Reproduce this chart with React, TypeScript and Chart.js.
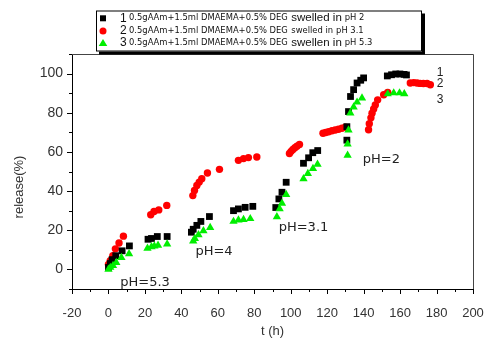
import React, { useEffect, useRef } from "react";
import { Chart, registerables } from "chart.js";
Chart.register(...registerables);

// Series 1: pH 2 (black squares)
const s1T = [0, 1, 2, 4, 7.5, 11.5, 21.7, 23.6, 26.8, 32.2, 45.5, 46.5, 48.5, 50.7, 55.4, 68.6, 71.3, 75, 79.2, 91.8, 93.5, 95.2, 97.5, 107, 109.8, 112.1, 114.8, 130.8, 130.8, 131.7, 132.8, 134.5, 136.4, 138.4, 140, 153, 155.3, 157.6, 159.9, 162.2, 163.5];
const s1V = [1, 3, 5, 7, 9.5, 12, 15.4, 15.8, 16.8, 16.8, 19, 20.5, 22.5, 24.5, 27, 30, 30.9, 31.7, 32.2, 31.6, 36, 39.4, 44.5, 54.2, 57, 59.6, 60.7, 66, 72.9, 80.6, 88.3, 91.8, 95.2, 96.6, 97.8, 98.8, 99.4, 99.8, 99.8, 99.6, 99.3];

// Series 2: pH 3.1 (red circles)
const s2T = [0, 1, 2.4, 3.8, 5.8, 8.2, 23.2, 25, 27.6, 32, 46.3, 47.2, 48.5, 49.8, 51.2, 54.3, 60.9, 71.3, 74.1, 76.8, 81.4, 99.3, 100.2, 101.2, 102.3, 103.4, 104.8, 117.7, 119.2, 120.8, 122.6, 124.4, 126.2, 128.1, 129.9, 142.7, 143.1, 144, 144.6, 145.5, 146.4, 147.7, 151, 153.2, 165.6, 167.5, 169.3, 171, 172.8, 174.8, 176.6];
const s2V = [2.5, 4.5, 7, 10.5, 13.5, 17, 27.9, 29.6, 30.4, 32.7, 37.7, 40.3, 42.9, 44.6, 46.3, 49.2, 51.1, 55.7, 56.6, 57.1, 57.4, 59.2, 60.3, 61.2, 62.1, 62.9, 63.8, 69.5, 69.9, 70.3, 70.8, 71.2, 71.6, 72.1, 72.6, 71.3, 74.4, 77.4, 79.8, 81.9, 84, 86.6, 89.2, 90.4, 95.2, 95.4, 95.2, 95, 94.9, 94.9, 94.3];

// Series 3: pH 5.3 (green triangles)
const s3T = [0, 1, 2.5, 4.3, 7.1, 11.3, 21.4, 23.6, 25.2, 27.2, 32.2, 46.5, 47.4, 49.4, 52.1, 55.8, 68.6, 71.3, 74.1, 77.8, 92.4, 93.9, 95.2, 97.5, 107, 109.4, 112.2, 114.7, 131.2, 131.2, 131.7, 132.7, 134.5, 136.4, 139.1, 153.2, 156.5, 159.7, 162.3];
const s3V = [0, 1, 2, 3.5, 6, 8, 10.8, 11.5, 11.9, 12.3, 12.9, 14.5, 15.7, 17.7, 19.7, 21.4, 24.5, 25.2, 25.5, 25.9, 26.9, 30.9, 33.8, 38.2, 46.3, 48.9, 51.5, 53.7, 58.3, 64, 71.2, 79.8, 82.9, 85.4, 87.5, 89.6, 90.1, 90.1, 89.7];

const legendNums = ["1", "2", "3"];
const legendMain = ["0.5gAAm+1.5ml DMAEMA+0.5% DEG", "0.5gAAm+1.5ml DMAEMA+0.5% DEG", "0.5gAAm+1.5ml DMAEMA+0.5% DEG"];
const legendVerb = ["swelled in", "swelled in", "swellen in"];
const legendPh = ["pH 2", "pH 3.1", "pH 5.3"];

const phLabels = ["pH=5.3", "pH=4", "pH=3.1", "pH=2"];
const phX = [20.1, 57.9, 107, 149.7];
const phY = [-6.5, 9.1, 21.4, 56.1];

const curveLabels = ["1", "2", "3"];
const curveX = [182, 182, 182];
const curveY = [100.7, 94.9, 86.6];

const xMin = -20, xMax = 200, yMin = -10, yMax = 110;

const pts = (t: number[], v: number[]) => t.map((x, i) => ({ x, y: v[i] }));

const SANS = "'Liberation Sans', Arial, sans-serif";
const DJ = "'DejaVu Sans', Verdana, sans-serif";

const framePlugin = {
  id: "frameAndExtras",
  afterDraw(chart: any) {
    const { ctx, chartArea: a, scales } = chart;
    const xs = scales.x, ys = scales.y;
    ctx.save();
    // frame top/right
    ctx.strokeStyle = "#444";
    ctx.lineWidth = 1;
    ctx.beginPath();
    ctx.moveTo(a.left, a.top + 0.5);
    ctx.lineTo(a.right + 0.5, a.top + 0.5);
    ctx.lineTo(a.right + 0.5, a.bottom);
    ctx.stroke();
    // ticks
    ctx.strokeStyle = "#000";
    ctx.beginPath();
    for (let v = xMin; v <= xMax; v += 10) {
      const px = Math.round(xs.getPixelForValue(v)) + 0.5;
      const len = v % 20 === 0 ? 5 : 3;
      ctx.moveTo(px, a.bottom);
      ctx.lineTo(px, a.bottom + len);
    }
    for (let v = yMin; v <= yMax; v += 10) {
      const py = Math.round(ys.getPixelForValue(v)) + 0.5;
      const len = v % 20 === 0 ? 5 : 3;
      ctx.moveTo(a.left, py);
      ctx.lineTo(a.left - len, py);
    }
    ctx.stroke();

    // axis titles
    ctx.fillStyle = "#333";
    ctx.font = `13px ${SANS}`;
    ctx.textAlign = "center";
    ctx.textBaseline = "middle";
    ctx.fillText("t (h)", (a.left + a.right) / 2, 331);
    ctx.save();
    ctx.translate(19, 187);
    ctx.rotate(-Math.PI / 2);
    ctx.fillText("release(%)", 0, 0);
    ctx.restore();

    // pH annotations
    ctx.font = `13px ${DJ}`;
    ctx.fillStyle = "#222";
    phLabels.forEach((s, i) => {
      ctx.fillText(s, xs.getPixelForValue(phX[i]), ys.getPixelForValue(phY[i]));
    });
    ctx.font = `12px ${SANS}`;
    curveLabels.forEach((s, i) => {
      ctx.fillText(s, xs.getPixelForValue(curveX[i]), ys.getPixelForValue(curveY[i]));
    });

    // legend box
    const bx = 96, by = 10.5, bw = 326, bh = 41;
    ctx.fillStyle = "#000";
    ctx.fillRect(bx + 3, by + 3, bw, bh);
    ctx.fillStyle = "#fff";
    ctx.fillRect(bx, by, bw, bh);
    ctx.strokeStyle = "#000";
    ctx.lineWidth = 1;
    ctx.strokeRect(bx + 0.5, by + 0.5, bw - 1, bh - 1);

    const rows = [18.3, 31, 43];
    const ds = chart.data.datasets;
    rows.forEach((ry, i) => {
      const d = ds[i];
      ctx.save();
      ctx.fillStyle = d.backgroundColor;
      const style = d.pointStyle;
      const mx = 103;
      if (style === "rect") {
        ctx.fillRect(mx - 3, ry - 3, 6, 6);
      } else if (style === "circle") {
        ctx.beginPath();
        ctx.arc(mx, ry, 3.5, 0, Math.PI * 2);
        ctx.fill();
      } else {
        ctx.beginPath();
        ctx.moveTo(mx, ry - 4);
        ctx.lineTo(mx + 4.3, ry + 3);
        ctx.lineTo(mx - 4.3, ry + 3);
        ctx.closePath();
        ctx.fill();
      }
      ctx.restore();

      ctx.fillStyle = "#111";
      ctx.textAlign = "left";
      ctx.textBaseline = "middle";
      let x = 120;
      ctx.font = `12px ${SANS}`;
      ctx.fillText(legendNums[i], x, ry);
      x = 129;
      ctx.font = `8.4px ${DJ}`;
      ctx.fillText(legendMain[i], x, ry);
      x += ctx.measureText(legendMain[i]).width + 3.5;
      if (i === 1) {
        ctx.fillText(legendVerb[i], x, ry);
        x += ctx.measureText(legendVerb[i]).width + 3;
      } else {
        ctx.font = `11.5px ${SANS}`;
        ctx.fillText(legendVerb[i], x, ry);
        x += ctx.measureText(legendVerb[i]).width + 3;
        ctx.font = `8.4px ${DJ}`;
      }
      ctx.fillText(legendPh[i], x, ry);
    });
    ctx.restore();
  },
};

export default function App() {
  const ref = useRef<HTMLCanvasElement>(null);
  useEffect(() => {
    const chart = new Chart(ref.current as HTMLCanvasElement, {
      type: "scatter",
      data: {
        datasets: [
          {
            label: "1 0.5gAAm+1.5ml DMAEMA+0.5% DEG swelled in pH 2",
            data: pts(s1T, s1V),
            pointStyle: "rect",
            pointRadius: 4.8,
            backgroundColor: "#000000",
            borderColor: "#000000",
            borderWidth: 0,
            order: 1,
          },
          {
            label: "2 0.5gAAm+1.5ml DMAEMA+0.5% DEG swelled in pH 3.1",
            data: pts(s2T, s2V),
            pointStyle: "circle",
            pointRadius: 3.7,
            backgroundColor: "#ff0000",
            borderColor: "#ff0000",
            borderWidth: 0,
            order: 2,
          },
          {
            label: "3 0.5gAAm+1.5ml DMAEMA+0.5% DEG swellen in pH 5.3",
            data: pts(s3T, s3V),
            pointStyle: "triangle",
            pointRadius: 4.8,
            backgroundColor: "#00ee00",
            borderColor: "#00ee00",
            borderWidth: 0,
            order: 0,
          },
        ] as any,
      },
      options: {
        animation: false,
        responsive: false,
        devicePixelRatio: 1,
        layout: { padding: { top: 54, right: 15, left: 0, bottom: 0 } },
        plugins: { legend: { display: false }, tooltip: { enabled: false } },
        scales: {
          x: {
            type: "linear",
            min: xMin,
            max: xMax,
            afterFit(scale: any) {
              scale.height = 52;
              scale.paddingLeft = 0;
              scale.paddingRight = 0;
            },
            ticks: {
              stepSize: 10,
              autoSkip: false,
              maxRotation: 0,
              padding: 17,
              color: "#333",
              font: { family: SANS, size: 13 },
              callback: (v: any) => (Number(v) % 20 === 0 ? String(v) : ""),
            },
            grid: { display: true, drawOnChartArea: false, drawTicks: false },
            border: { display: true, color: "#000", width: 1 },
          },
          y: {
            type: "linear",
            min: yMin,
            max: yMax,
            afterFit(scale: any) {
              scale.width = 72;
              scale.paddingTop = 0;
              scale.paddingBottom = 0;
            },
            ticks: {
              stepSize: 10,
              autoSkip: false,
              padding: 9,
              color: "#333",
              font: { family: SANS, size: 14 },
              callback: (v: any) => {
                const n = Number(v);
                return n % 20 === 0 && n >= 0 && n <= 100 ? String(n) : "";
              },
            },
            grid: { display: true, drawOnChartArea: false, drawTicks: false },
            border: { display: true, color: "#000", width: 1 },
          },
        },
      },
      plugins: [framePlugin],
    });
    return () => chart.destroy();
  }, []);
  return (
    <div style={{ position: "fixed", left: 0, top: 0, width: 488, height: 341, background: "#fff" }}>
      <canvas ref={ref} width={488} height={341} style={{ display: "block", width: 488, height: 341 }} />
    </div>
  );
}
